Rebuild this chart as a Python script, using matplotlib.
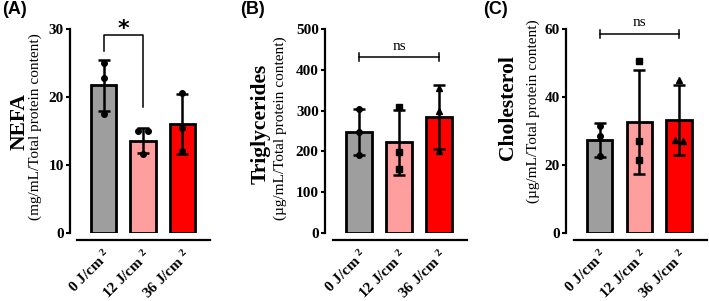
import matplotlib
matplotlib.use("Agg")
import matplotlib.pyplot as plt
import numpy as np

# ---------------- data ----------------
groups = ["0 J/cm $^{2}$", "12 J/cm $^{2}$", "36 J/cm $^{2}$"]
bar_colors = ["#9e9e9e", "#ff9e9e", "#ff0000"]

nefa_mean = [21.7, 13.6, 16.0]
nefa_sd = [3.8, 1.9, 4.4]
nefa_pts = [[25.0, 22.8, 17.5], [15.0, 15.0, 11.6], [20.6, 15.4, 12.0]]

tg_mean = [248, 222, 285]
tg_sd = [57, 80, 78]
tg_pts = [[305, 248, 192], [310, 198, 157], [355, 300, 200]]

chol_mean = [27.5, 32.7, 33.2]
chol_sd = [5.0, 15.3, 10.3]
chol_pts = [[31.5, 28.5, 22.6], [50.5, 27.0, 21.5], [45.0, 27.5, 27.0]]

plt.rcParams["mathtext.fontset"] = "custom"
plt.rcParams["mathtext.rm"] = "Liberation Serif:bold"
plt.rcParams["mathtext.bf"] = "Liberation Serif:bold"
plt.rcParams["mathtext.it"] = "Liberation Serif:bold"
plt.rcParams["mathtext.default"] = "bf"

W, H = 709, 301
fig = plt.figure(figsize=(W / 100, H / 100), dpi=100)

def fx(px):
    return px / W

def fy(py):
    return 1 - py / H

serif = "Liberation Serif"

def make_panel(left_px, width_px, means, sds, pts, markers, offsets, ymax, yticks):
    ax = fig.add_axes([fx(left_px), fy(233), width_px / W, 204 / H])
    x = np.arange(len(means))
    ax.bar(x, means, width=0.64, color=bar_colors, edgecolor="black",
           linewidth=2.0, zorder=2)
    ax.errorbar(x, means, yerr=sds, fmt="none", ecolor="black",
                elinewidth=1.8, capsize=4.5, capthick=1.8, zorder=3)
    for i in range(len(means)):
        for j, v in enumerate(pts[i]):
            ax.plot(x[i] + offsets[i][j], v, marker=markers[i], color="black",
                    markersize=4, linestyle="none", zorder=4, clip_on=False)
    ax.set_xlim(-0.85, 2.7)
    ax.set_ylim(0, ymax)
    ax.set_yticks(yticks)
    ax.set_yticklabels([str(t) for t in yticks], fontfamily=serif,
                       fontweight="bold", fontsize=11)
    ax.spines["top"].set_visible(False)
    ax.spines["right"].set_visible(False)
    ax.spines["left"].set_linewidth(1.6)
    ax.spines["left"].set_bounds(0, ymax)
    ax.spines["bottom"].set_linewidth(1.6)
    ax.spines["bottom"].set_position(("outward", 5))
    ax.spines["bottom"].set_bounds(-0.66, 2.7)
    ax.tick_params(axis="y", length=3, width=1.5, pad=1.5)
    ax.tick_params(axis="x", length=0, pad=5)
    ax.set_xticks(x)
    ax.set_xticklabels(groups, rotation=45, ha="right", rotation_mode="anchor",
                       fontfamily=serif, fontweight="bold", fontsize=11)
    ax.patch.set_visible(False)
    return ax

circ = ["o", "o", "o"]
mixed = ["o", "s", "^"]
no_off = [[0, 0, 0], [0, 0, 0], [0, 0, 0]]

axA = make_panel(70, 140, nefa_mean, nefa_sd, nefa_pts, circ,
                 [[0, 0, 0], [-0.12, 0.12, 0], [0, 0, 0]], 30, [0, 10, 20, 30])
axB = make_panel(325, 142, tg_mean, tg_sd, tg_pts, mixed, no_off,
                 500, [0, 100, 200, 300, 400, 500])
axC = make_panel(566, 141, chol_mean, chol_sd, chol_pts, mixed,
                 [[0, 0, 0], [0, 0, 0], [0, -0.1, 0.1]], 60, [0, 20, 40, 60])

# significance annotations
axA.plot([0, 0, 1, 1], [26.8, 29.1, 29.1, 18.5], color="black", lw=1.1,
         clip_on=False, zorder=5)
axA.text(0.5, 28.6, "*", ha="center", va="bottom", fontsize=16,
         fontweight="bold", fontfamily="DejaVu Sans")

def ns_bracket(ax, y, tick, ty):
    ax.plot([0, 2], [y, y], color="black", lw=1.1, clip_on=False)
    ax.plot([0, 0], [y - tick, y + tick], color="black", lw=1.1, clip_on=False)
    ax.plot([2, 2], [y - tick, y + tick], color="black", lw=1.1, clip_on=False)
    ax.text(1, ty, "ns", ha="center", va="center", fontsize=11,
            fontfamily=serif, clip_on=False)

ns_bracket(axB, 431, 10, 458)
ns_bracket(axC, 58.6, 1.2, 62.0)

# y labels
def ylab(xpx, ypx, title, xsub, ysub, sub):
    fig.text(fx(xpx), fy(ypx), title, rotation=90, ha="center", va="center",
             fontfamily=serif, fontweight="bold", fontsize=15.5)
    fig.text(fx(xsub), fy(ysub), sub, rotation=90, ha="center", va="center",
             fontfamily=serif, fontsize=11)

ylab(20, 122, "NEFA", 35, 127, "(mg/mL/Total protein content)")
ylab(261, 124, "Triglycerides", 280, 128, "(µg/mL/Total protein content)")
ylab(508, 108, "Cholesterol", 533, 111, "(µg/mL/Total protein content)")

# panel labels
for xp, lab in [(2, "(A)"), (240, "(B)"), (483, "(C)")]:
    fig.text(fx(xp), fy(9), lab, ha="left", va="center", fontsize=13,
             fontweight="bold", fontfamily="Liberation Sans")

fig.savefig("out.png", dpi=100)
